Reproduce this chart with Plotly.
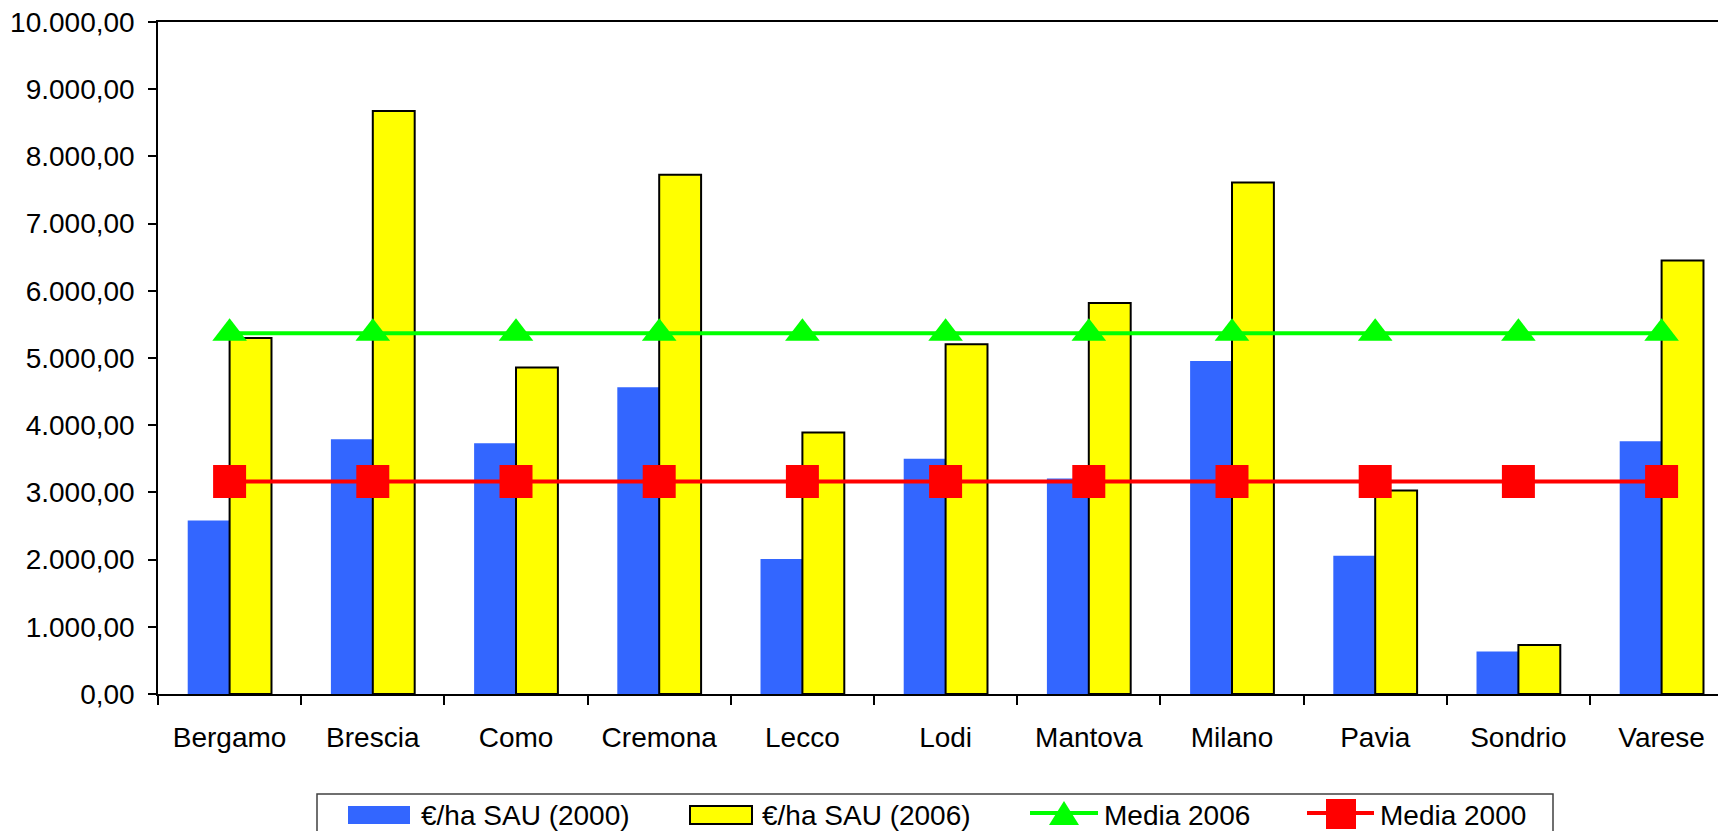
import plotly.graph_objects as go

provinces = ["Bergamo", "Brescia", "Como", "Cremona", "Lecco", "Lodi",
             "Mantova", "Milano", "Pavia", "Sondrio", "Varese"]
sau_2000 = [2580, 3792, 3732, 4564, 2008, 3500, 3205, 4957, 2057, 631, 3762]
sau_2006 = [5296, 8677, 4858, 7727, 3892, 5203, 5819, 7612, 3027, 730, 6451]
media_2006 = [5370, 5370, 5370, 5370, 5370, 5370, 5370, 5370, 5370, 5370, 5370]
media_2000 = [3161, 3161, 3161, 3161, 3161, 3161, 3161, 3161, 3161, 3161, 3161]
y_ticks = [0, 1000, 2000, 3000, 4000, 5000, 6000, 7000, 8000, 9000, 10000]
series_names = ["€/ha SAU (2000)", "€/ha SAU (2006)", "Media 2006", "Media 2000"]

FONT = "Liberation Sans, Arial, sans-serif"
BLUE, YELLOW, GREEN, RED = "#3366FF", "#FFFF00", "#00FF00", "#FF0000"

fig = go.Figure()
fig.add_trace(go.Bar(x=provinces, y=sau_2000, name=series_names[0],
                     marker=dict(color=BLUE, line=dict(width=0))))
fig.add_trace(go.Bar(x=provinces, y=sau_2006, name=series_names[1],
                     marker=dict(color=YELLOW, line=dict(color="#000000", width=2))))
fig.add_trace(go.Scatter(x=provinces, y=media_2006, name=series_names[2], mode="lines+markers",
                         line=dict(color=GREEN, width=4),
                         marker=dict(symbol="triangle-up", size=30, color=GREEN)))
fig.add_trace(go.Scatter(x=provinces, y=media_2000, name=series_names[3], mode="lines+markers",
                         line=dict(color=RED, width=4),
                         marker=dict(symbol="square", size=33, color=RED)))

# the page body adds an 8px margin; work in on-screen pixels and subtract it
OFF = 8
W, H = 1726, 831
plot_left, plot_top, plot_bottom = 158 - OFF, 22 - OFF, 694 - OFF
plot_w = W - plot_left
plot_h = plot_bottom - plot_top
cat_w = 143.2


def px(x):
    return (x - OFF - plot_left) / plot_w


def py(y):
    return (plot_bottom - (y - OFF)) / plot_h


# custom legend (box, swatches, symbols, labels) in on-screen pixels
shapes = []
annotations = []
shapes.append(dict(type="rect", xref="paper", yref="paper",
                   x0=px(317), x1=px(1553), y0=py(880), y1=py(794),
                   line=dict(color="#404040", width=1.5), fillcolor="white", layer="above"))
sw_top, sw_bot, mid = 806, 824, 815
shapes.append(dict(type="rect", xref="paper", yref="paper",
                   x0=px(348), x1=px(410), y0=py(sw_bot), y1=py(sw_top),
                   line=dict(width=0), fillcolor=BLUE, layer="above"))
shapes.append(dict(type="rect", xref="paper", yref="paper",
                   x0=px(690), x1=px(752), y0=py(sw_bot), y1=py(sw_top),
                   line=dict(color="black", width=2), fillcolor=YELLOW, layer="above"))
shapes.append(dict(type="line", xref="paper", yref="paper",
                   x0=px(1030), x1=px(1098), y0=py(mid - 2), y1=py(mid - 2),
                   line=dict(color=GREEN, width=4), layer="above"))
shapes.append(dict(type="path", xref="paper", yref="paper",
                   path=f"M{px(1049)},{py(825)} L{px(1079)},{py(825)} L{px(1064)},{py(801)} Z",
                   line=dict(width=0), fillcolor=GREEN, layer="above"))
shapes.append(dict(type="line", xref="paper", yref="paper",
                   x0=px(1307), x1=px(1374), y0=py(mid - 2), y1=py(mid - 2),
                   line=dict(color=RED, width=4), layer="above"))
shapes.append(dict(type="rect", xref="paper", yref="paper",
                   x0=px(1326), x1=px(1356), y0=py(829), y1=py(799),
                   line=dict(width=0), fillcolor=RED, layer="above"))
for name, xs in zip(series_names, [419, 760, 1102, 1378]):
    annotations.append(dict(text=name, xref="paper", yref="paper", x=px(xs), y=py(mid),
                            xanchor="left", yanchor="middle", showarrow=False,
                            font=dict(family=FONT, size=28, color="black")))

fig.update_layout(
    width=W, height=H,
    margin=dict(l=plot_left, r=0, t=plot_top, b=H - plot_bottom, pad=0),
    paper_bgcolor="white", plot_bgcolor="white",
    separators=",.",
    barmode="group", bargap=0.415, bargroupgap=0,
    font=dict(family=FONT, size=28, color="black"),
    showlegend=False,
    shapes=shapes, annotations=annotations,
)
fig.update_xaxes(type="category", range=[-0.5, -0.5 + plot_w / cat_w], automargin=False,
                 showline=True, linecolor="black", linewidth=1.5, mirror=True,
                 ticks="outside", ticklen=9, tickcolor="black", tickwidth=1.5,
                 tickson="boundaries", showgrid=False, zeroline=False,
                 ticklabelstandoff=18, ticklabeloverflow="allow",
                 tickfont=dict(family=FONT, size=28, color="black"))
fig.update_yaxes(range=[0, 10000], tickvals=y_ticks, tickformat=",.2f", automargin=False,
                 showline=True, linecolor="black", linewidth=1.5,
                 ticks="outside", ticklen=8, tickcolor="black", tickwidth=1.5,
                 showgrid=False, zeroline=False, ticklabelstandoff=8,
                 ticklabeloverflow="allow",
                 tickfont=dict(family=FONT, size=28, color="black"))

fig.write_html("out.html")
